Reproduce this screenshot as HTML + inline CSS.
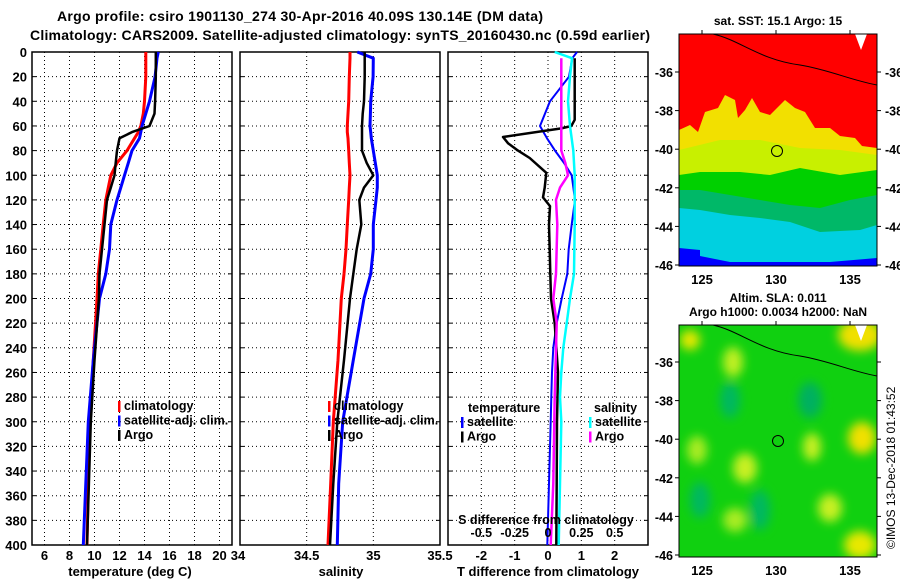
<!DOCTYPE html>
<html><head><meta charset="utf-8"><style>
html,body{margin:0;padding:0;background:#fff;}
svg{display:block;font-family:"Liberation Sans",sans-serif;font-weight:bold;}
</style></head><body>
<svg id="fig" width="900" height="580" viewBox="0 0 900 580">
<defs><filter id="bl" x="-50%" y="-50%" width="200%" height="200%"><feGaussianBlur stdDeviation="5"/></filter>
<clipPath id="cm1"><rect x="679" y="34" width="198" height="232"/></clipPath>
<clipPath id="cm2"><rect x="679" y="325" width="198" height="232"/></clipPath></defs>
<text x="300" y="21" font-size="14" text-anchor="middle" textLength="486">Argo profile: csiro 1901130_274 30-Apr-2016 40.09S 130.14E (DM data)</text>
<text x="340" y="40" font-size="14" text-anchor="middle" textLength="620">Climatology: CARS2009. Satellite-adjusted climatology: synTS_20160430.nc (0.59d earlier)</text>
<g id="maps">
<g clip-path="url(#cm1)">
<rect x="679" y="34" width="198" height="232" fill="#00d0e0"/>
<polygon points="679,34 877,34 877,266 679,266" fill="#00d0e0"/>
<polygon points="679,180 877,175 877,225 860,230 820,232 790,222 760,218 730,215 700,210 679,208" fill="#00b868"/>
<polygon points="679,165 700,168 720,163 750,170 780,168 800,165 830,170 877,165 877,195 850,200 820,208 790,205 760,200 730,195 700,190 679,190" fill="#00d000"/>
<polygon points="679,135 877,135 877,170 840,175 800,168 770,175 740,172 700,172 679,175" fill="#c8f000"/>
<polygon points="679,34 877,34 877,155 840,150 800,148 760,140 720,140 679,150" fill="#f2e000"/>
<polygon points="679,34 877,34 877,148 862,146 855,138 840,136 830,128 815,128 805,112 795,108 785,100 775,110 770,115 760,112 752,98 745,110 738,118 735,100 725,95 718,108 705,112 698,132 690,125 679,130" fill="#ff0000"/>
<polygon points="679,248 700,250 700,256 730,262 760,262 800,262 830,262 877,258 877,266 679,266" fill="#0000ff"/>
<path d="M713,34 C740,40 760,60 800,65 C830,70 850,80 877,85" stroke="#000" fill="none" stroke-width="1"/>
<polygon points="855,34 867,34 861,50" fill="#fff"/>
<circle cx="777" cy="151" r="5.5" fill="#c8f000" stroke="#000" stroke-width="1"/>
</g>
<rect x="679" y="34" width="198" height="232" fill="none" stroke="#000" stroke-width="1"/>
<g clip-path="url(#cm2)">
<rect x="679" y="325" width="198" height="232" fill="#10d010"/>
<g filter="url(#bl)">
<ellipse cx="810" cy="400" rx="12" ry="18" fill="#00b060"/>
<ellipse cx="700" cy="500" rx="10" ry="18" fill="#00b860"/>
<ellipse cx="760" cy="510" rx="10" ry="20" fill="#00b860"/>
<ellipse cx="730" cy="400" rx="10" ry="18" fill="#00b860"/>
<ellipse cx="733" cy="362" rx="10" ry="15" fill="#c0f020"/>
<ellipse cx="745" cy="468" rx="12" ry="15" fill="#c8f020"/>
<ellipse cx="812" cy="447" rx="9" ry="14" fill="#c8f020"/>
<ellipse cx="862" cy="438" rx="14" ry="16" fill="#f0e000"/>
<ellipse cx="697" cy="450" rx="10" ry="14" fill="#a8ec20"/>
<ellipse cx="830" cy="508" rx="12" ry="14" fill="#c8f020"/>
<ellipse cx="860" cy="545" rx="16" ry="14" fill="#e8e800"/>
<ellipse cx="735" cy="520" rx="12" ry="12" fill="#a8ec20"/>
<ellipse cx="860" cy="335" rx="22" ry="16" fill="#f0e000"/>
<ellipse cx="690" cy="340" rx="10" ry="10" fill="#e8e800"/>
</g>
<path d="M713,325 C740,331 760,351 800,356 C830,361 850,371 877,376" stroke="#000" fill="none" stroke-width="1"/>
<polygon points="855,325 867,325 861,341" fill="#fff"/>
<circle cx="778" cy="441" r="5.5" fill="none" stroke="#000" stroke-width="1"/>
</g>
<rect x="679" y="325" width="198" height="232" fill="none" stroke="#000" stroke-width="1"/>
<text x="778" y="25" font-size="12" text-anchor="middle">sat. SST: 15.1 Argo: 15</text>
<text x="778" y="302" font-size="12" text-anchor="middle">Altim. SLA: 0.011</text>
<text x="778" y="316" font-size="12" text-anchor="middle">Argo h1000: 0.0034 h2000: NaN</text>
<text transform="translate(895,549) rotate(-90)" font-size="12" font-weight="normal">©IMOS 13-Dec-2018 01:43:52</text>
</g>
</svg>
<script>
// depth grid for temperature / salinity profiles
const profDepth = [0,5,20,40,50,60,65,70,80,90,100,110,120,140,160,180,200,250,300,350,400];
const tClim = [14.1,14.1,14.1,14.0,13.9,13.7,13.5,13.2,12.6,11.8,11.3,11.1,10.9,10.7,10.5,10.3,10.2,9.9,9.6,9.5,9.4];
const tSat  = [15.1,15.0,14.85,14.4,14.1,13.8,13.7,13.6,13.0,12.7,12.4,12.1,11.8,11.3,11.2,10.9,10.4,9.9,9.5,9.3,9.1];
const tArgo = [14.9,14.9,14.9,14.85,14.8,14.4,13.0,12.0,11.8,11.7,11.6,11.3,11.0,10.8,10.6,10.4,10.35,10.0,9.7,9.55,9.4];
const sClim = [34.825,34.825,34.82,34.815,34.81,34.805,34.805,34.81,34.815,34.82,34.825,34.82,34.815,34.805,34.795,34.78,34.76,34.735,34.70,34.68,34.66];
const sSat  = [34.88,35.0,34.998,34.98,34.978,34.975,34.98,34.985,35.0,35.015,35.03,35.03,35.02,35.0,35.0,34.98,34.93,34.85,34.77,34.74,34.73];
const sArgo = [34.935,34.935,34.935,34.93,34.92,34.915,34.915,34.915,34.915,34.95,35.0,34.93,34.895,34.91,34.875,34.85,34.825,34.78,34.73,34.70,34.675];
// difference panel
const dTSatDepth = [0,5,20,40,60,70,80,90,100,120,140,160,180,200,220,240,260,280,300,350,400];
const dTSat = [0.87,0.73,0.63,0.06,-0.24,-0.03,0.21,0.48,0.71,0.81,0.71,0.62,0.58,0.41,0.26,0.16,0.12,0.1,0.08,0.03,-0.02];
const dTArgoDepth = [5,55,60,62,69,74,80,86,98,110,118,125,140,160,180,200,220,260,300,350,400];
const dTArgo = [0.8,0.8,0.7,0.4,-1.35,-1.2,-0.9,-0.55,-0.05,-0.1,-0.15,0.06,0.03,0.05,0.07,0.09,0.2,0.3,0.27,0.26,0.25];
const dSSatDepth = [0,5,20,40,60,80,100,140,180,200,220,240,260,280,300,350,400];
const dSSat = [0.05,0.18,0.165,0.15,0.165,0.19,0.2,0.2,0.195,0.165,0.14,0.115,0.1,0.09,0.1,0.09,0.08];
const dSArgoDepth = [5,20,80,90,100,110,120,140,180,200,220,280,350,400];
const dSArgo = [0.1,0.1,0.1,0.13,0.15,0.09,0.06,0.07,0.06,0.04,0.065,0.05,0.04,0.02];
const depthTicks = [0,20,40,60,80,100,120,140,160,180,200,220,240,260,280,300,320,340,360,380,400];
const tTicks = [6,8,10,12,14,16,18,20];
const sTicks = [34,34.5,35,35.5];
const dTTicks = [-2,-1,0,1,2];
const dSTickVals = [-0.5,-0.25,0,0.25,0.5];
const latTicks = [-36,-38,-40,-42,-44,-46];
const lonTicks = [125,130,135];

const NS = 'http://www.w3.org/2000/svg';
const svg = document.getElementById('fig');
function mk(tag, attrs, parent){const e=document.createElementNS(NS,tag);for(const k in attrs)e.setAttribute(k,attrs[k]);(parent||svg).appendChild(e);return e;}
const Y0=52, Y1=545;
function yD(d){return Y0+(d/400)*(Y1-Y0);}
function lin(a,b,x0,x1){return v=>x0+(v-a)/(b-a)*(x1-x0);}
const P1={x0:32,x1:232,sx:lin(5,21,32,232)};
const P2={x0:240,x1:440,sx:lin(34,35.5,240,440)};
const P3={x0:448,x1:648,sx:lin(-3,3,448,648)};
const sx3S = lin(-0.75,0.75,448,648);

function frame(p,name,vGrid,hasYLabels){
  const g=mk('g',{});
  
  
  vGrid.forEach(v=>{const x=p.sx(v);mk('line',{x1:x,x2:x,y1:Y0,y2:Y1,stroke:'#000','stroke-width':1,'stroke-dasharray':'1,3'},g);});
  depthTicks.forEach(d=>{const y=yD(d);
    if(d>0&&d<400) mk('line',{x1:p.x0,x2:p.x1,y1:y,y2:y,stroke:'#000','stroke-width':1,'stroke-dasharray':'1,3'},g);
    mk('line',{x1:p.x0,x2:p.x0+4,y1:y,y2:y,stroke:'#000'},g);mk('line',{x1:p.x1-4,x2:p.x1,y1:y,y2:y,stroke:'#000'},g);
    if(hasYLabels){const t=mk('text',{x:27,y:y+5,'font-size':13,'text-anchor':'end'},g);t.textContent=d;
      
      }
  });
  mk('rect',{x:p.x0,y:Y0,width:p.x1-p.x0,height:Y1-Y0,fill:'none',stroke:'#000','stroke-width':1.5},g);
  return g;
}
function line(xs,depths,sx,color,w,name){
  const pts=xs.map((v,i)=>sx(v).toFixed(1)+','+yD(depths[i]).toFixed(1)).join(' ');
  const e=mk('polyline',{points:pts,fill:'none',stroke:color,'stroke-width':w,'stroke-linejoin':'round'});
  
  
}
function txt(x,y,s,size,anchor,name){const t=mk('text',{x:x,y:y,'font-size':size,'text-anchor':anchor||'start'});t.textContent=s;
  
  return t;}
function legend(x,y,items){items.forEach((it,i)=>{const yy=y+i*14.5;
  const m=mk('rect',{x:x,y:yy-9,width:2.5,height:11,fill:it[1]});
  
  
  txt(x+6,yy,it[0],12.5,'start','legend-entry');});}

// panel 1
frame(P1,'temperature-panel',[6,8,10,12,14,16,18,20],true);
line(tClim,profDepth,P1.sx,'#f00',3,'temp-climatology-line');
line(tSat,profDepth,P1.sx,'#00f',3,'temp-satellite-line');
line(tArgo,profDepth,P1.sx,'#000',2.5,'temp-argo-line');
tTicks.forEach(v=>txt(P1.sx(v),560,v,13,'middle','x-tick-label'));
txt(130,576,'temperature (deg C)',13,'middle','temperature-axis-title');
legend(118,410,[['climatology','#f00'],['satellite-adj. clim.','#00f'],['Argo','#000']]);
// panel 2
frame(P2,'salinity-panel',[34.5,35],false);
line(sClim,profDepth,P2.sx,'#f00',3,'sal-climatology-line');
line(sSat,profDepth,P2.sx,'#00f',3,'sal-satellite-line');
line(sArgo,profDepth,P2.sx,'#000',2.5,'sal-argo-line');
sTicks.forEach(v=>txt(P2.sx(v)+(v==34?-2:0),560,v,13,'middle','x-tick-label'));
txt(341,576,'salinity',13,'middle','salinity-axis-title');
legend(328,410,[['climatology','#f00'],['satellite-adj. clim.','#00f'],['Argo','#000']]);
// panel 3
frame(P3,'difference-panel',[-2,-1,0,1,2],false);
line(dTSat,dTSatDepth,P3.sx,'#00f',2,'tdiff-satellite-line');
line(dTArgo,dTArgoDepth,P3.sx,'#000',2.5,'tdiff-argo-line');
line(dSSat,dSSatDepth,sx3S,'#0ff',2.5,'sdiff-satellite-line');
line(dSArgo,dSArgoDepth,sx3S,'#f0f',2.5,'sdiff-argo-line');
dTTicks.forEach(v=>txt(P3.sx(v),560,v,13,'middle','x-tick-label'));
dSTickVals.forEach(v=>txt(sx3S(v),537,v,12.5,'middle','s-tick-label'));
txt(546,524,'S difference from climatology',12.5,'middle','s-diff-axis-title');
txt(548,576,'T difference from climatology',13,'middle','t-diff-axis-title');
txt(468,412,'temperature',12.5,'start','legend-title-temperature');
legend(461,426,[['satellite','#00f'],['Argo','#000']]);
txt(594,412,'salinity',12.5,'start','legend-title-salinity');
legend(589,426,[['satellite','#0ff'],['Argo','#f0f']]);
// map axes
function latY1(l){return 72+(-36-l)*19.3;}
function latY2(l){return 362+(-36-l)*19.3;}
function lonX(l){return 702+(l-125)*14.8;}
latTicks.forEach(l=>{
  txt(673,latY1(l)+5,l,12.5,'end','map-lat-label');
  txt(885,latY1(l)+5,l,12.5,'start','map-lat-label');
  txt(673,latY2(l)+5,l,12.5,'end','map-lat-label');
  mk('line',{x1:877,x2:881,y1:latY1(l),y2:latY1(l),stroke:'#000'});
  mk('line',{x1:675,x2:679,y1:latY1(l),y2:latY1(l),stroke:'#000'});
  mk('line',{x1:675,x2:679,y1:latY2(l),y2:latY2(l),stroke:'#000'});
  mk('line',{x1:877,x2:881,y1:latY2(l),y2:latY2(l),stroke:'#000'});
});
lonTicks.forEach(l=>{
  txt(lonX(l),284,l,13,'middle','map-lon-label');
  txt(lonX(l),575,l,13,'middle','map-lon-label');
  mk('line',{x1:lonX(l),x2:lonX(l),y1:30,y2:34,stroke:'#000'});
  mk('line',{x1:lonX(l),x2:lonX(l),y1:321,y2:325,stroke:'#000'});
});
</script>
</body></html>
